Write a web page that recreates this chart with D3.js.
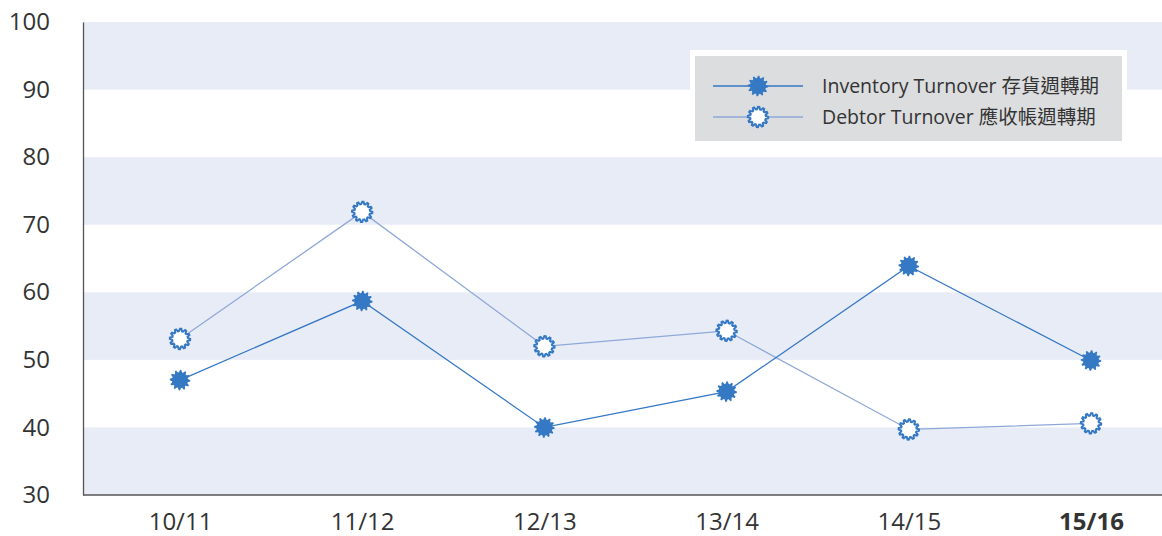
<!DOCTYPE html>
<html>
<head>
<meta charset="utf-8">
<script src="https://cdn.jsdelivr.net/npm/d3@7"></script>
<style>
  body { margin: 0; background: #fff; }
  svg text { font-family: "Open Sans", "Noto Sans CJK TC", sans-serif; fill: #333; }
</style>
</head>
<body>
<svg width="1162" height="536"></svg>
<script>
  // Data
  const years = ["10/11", "11/12", "12/13", "13/14", "14/15", "15/16"];
  const inventoryTurnover = [47.0, 58.7, 40.0, 45.3, 63.9, 49.9];
  const debtorTurnover = [53.1, 71.9, 52.0, 54.3, 39.7, 40.6];
  const yTicks = [30, 40, 50, 60, 70, 80, 90, 100];
  const bands = [[30, 40], [50, 60], [70, 80], [90, 100]];
  const seriesNames = ["Inventory Turnover 存貨週轉期", "Debtor Turnover 應收帳週轉期"];

  const svg = d3.select("svg"),
      width = +svg.attr("width"),
      height = +svg.attr("height");

  const plotLeft = 83, plotRight = 1162, plotTop = 22, plotBottom = 495;

  const x = d3.scalePoint()
      .domain(years)
      .range([180, 1091]);

  const y = d3.scaleLinear()
      .domain([30, 100])
      .range([plotBottom, plotTop]);

  // shaded bands
  svg.append("g")
      .selectAll("rect")
      .data(bands)
      .join("rect")
      .attr("x", plotLeft)
      .attr("width", plotRight - plotLeft)
      .attr("y", d => y(d[1]))
      .attr("height", d => y(d[0]) - y(d[1]))
      .attr("fill", "#e8ecf7");

  // y axis
  const yAxis = svg.append("g")
      .attr("transform", `translate(${plotLeft},0)`)
      .call(d3.axisLeft(y).tickValues(yTicks).tickSize(0).tickPadding(33));
  yAxis.select(".domain").attr("stroke", "#555").attr("stroke-width", 1.3);
  yAxis.selectAll("text").style("font-size", "24px").attr("fill", "#333");

  // x axis
  const xAxis = svg.append("g")
      .attr("transform", `translate(0,${plotBottom})`)
      .call(d3.axisBottom(x).tickSize(0).tickPadding(18));
  xAxis.select(".domain").attr("d", `M${plotLeft},0H${plotRight}`).attr("stroke", "#555").attr("stroke-width", 1.3);
  xAxis.selectAll("text")
      .style("font-size", "24px")
      .attr("fill", "#333")
      .style("font-weight", d => d === "15/16" ? "bold" : null);

  // gear shaped marker
  function gear(r, teeth, t) {
    let p = "";
    const n = teeth * 2;
    for (let i = 0; i < n * 2; i++) {
      const a = (i / (n * 2)) * Math.PI * 2;
      const k = Math.floor(i / 2) % 2 === 0;
      const rr = k ? r + t : r;
      p += (i === 0 ? "M" : "L") + (rr * Math.cos(a)).toFixed(2) + "," + (rr * Math.sin(a)).toFixed(2);
    }
    return p + "Z";
  }
  const markerPath = gear(8, 12, 2.3);
  const markerPathOpen = gear(7.8, 12, 2.4);

  const line = d3.line()
      .x((d, i) => x(years[i]))
      .y(d => y(d));

  const series = [
    { values: debtorTurnover, lineColor: "#8ea8d8", filled: false },
    { values: inventoryTurnover, lineColor: "#3577c4", filled: true }
  ];

  series.forEach(s => {
    svg.append("path")
        .datum(s.values)
        .attr("fill", "none")
        .attr("stroke", s.lineColor)
        .attr("stroke-width", 1.3)
        .attr("d", line);

    svg.append("g")
        .selectAll("path")
        .data(s.values)
        .join("path")
        .attr("transform", (d, i) => `translate(${x(years[i])},${y(d)})`)
        .attr("d", s.filled ? markerPath : markerPathOpen)
        .attr("fill", s.filled ? "#3579c4" : "#fff")
        .attr("stroke", s.filled ? "none" : "#3579c4")
        .attr("stroke-width", s.filled ? 0 : 2);
  });

  // legend
  const legend = svg.append("g");
  legend.append("rect")
      .attr("x", 690).attr("y", 50)
      .attr("width", 437).attr("height", 96)
      .attr("fill", "#fff");
  legend.append("rect")
      .attr("x", 695).attr("y", 56)
      .attr("width", 427).attr("height", 85)
      .attr("fill", "#dcdddf");

  const legendItems = [
    { name: seriesNames[0], lineColor: "#3577c4", filled: true, y: 86 },
    { name: seriesNames[1], lineColor: "#8ea8d8", filled: false, y: 117 }
  ];

  legendItems.forEach(d => {
    legend.append("line")
        .attr("x1", 713).attr("x2", 803)
        .attr("y1", d.y).attr("y2", d.y)
        .attr("stroke", d.lineColor)
        .attr("stroke-width", 1.3);
    legend.append("path")
        .attr("transform", `translate(758,${d.y})`)
        .attr("d", d.filled ? markerPath : markerPathOpen)
        .attr("fill", d.filled ? "#3579c4" : "#fff")
        .attr("stroke", d.filled ? "none" : "#3579c4")
        .attr("stroke-width", d.filled ? 0 : 2);
    legend.append("text")
        .attr("x", 822)
        .attr("y", d.y)
        .attr("dy", "0.35em")
        .style("font-size", "19.5px")
        .text(d.name);
  });
</script>
</body>
</html>
